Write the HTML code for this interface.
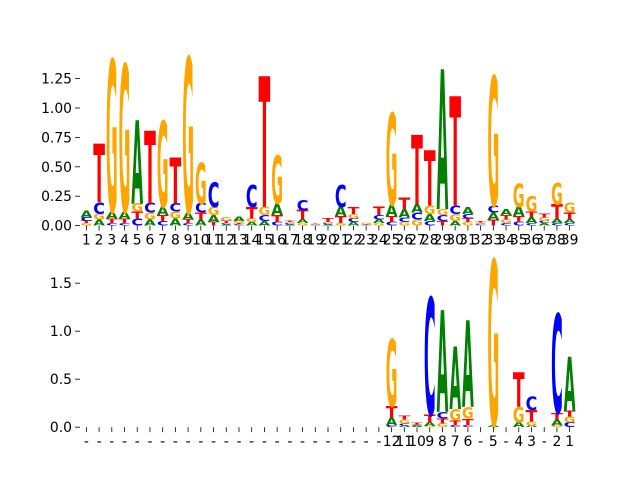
<!DOCTYPE html>
<html><head><meta charset="utf-8"><style>
html,body{margin:0;padding:0;background:#fff}
svg{display:block}
text{font-family:"DejaVu Sans","Liberation Sans",sans-serif}
</style></head><body>
<svg id="chart" width="640" height="480" viewBox="0 0 640 480"></svg>
<script>
const positions = Array.from({length:39},(_,i)=>i+1);
const topTickLabels = positions.map(String);
const bottomTickLabels = ["-","-","-","-","-","-","-","-","-","-","-","-","-","-","-","-","-","-","-","-","-","-","-","-","12","11","10","9","8","7","6","-","5","-","4","3","-","2","1"];
const topYTicks = [0,0.25,0.5,0.75,1.0,1.25];
const topYTickLabels = ["0.00","0.25","0.50","0.75","1.00","1.25"];
const bottomYTicks = [0,0.5,1.0,1.5];
const bottomYTickLabels = ["0.0","0.5","1.0","1.5"];
// top logo heights per letter per position
const topA = [0.06,0.05,0.06,0.06,0.71,0.05,0.07,0.06,0.06,0.05,0.06,0.01,0.04,0.03,0.04,0.10,0.01,0.03,0.005,0.01,0.08,0.03,0.005,0.03,0.10,0.07,0.07,0.06,1.19,0.04,0.06,0.005,0.06,0.05,0.08,0.05,0.02,0.04,0.03];
const topC = [0.03,0.10,0.02,0.02,0.06,0.08,0.04,0.07,0.02,0.08,0.21,0.01,0.01,0.19,0.05,0.03,0.01,0.09,0.005,0.01,0.19,0.03,0.005,0.04,0.03,0.04,0.06,0.04,0.05,0.07,0.04,0.01,0.06,0.02,0.03,0.02,0.02,0.02,0.02];
const topG = [0.02,0.05,1.29,1.25,0.07,0.06,0.73,0.06,1.32,0.35,0.07,0.03,0.02,0.03,0.07,0.41,0.01,0.02,0.005,0.01,0.02,0.04,0.01,0.02,0.78,0.03,0.05,0.07,0.05,0.06,0.03,0.01,1.10,0.03,0.20,0.13,0.03,0.18,0.08];
const topT = [0.02,0.50,0.04,0.04,0.06,0.62,0.05,0.39,0.03,0.06,0.03,0.02,0.01,0.10,1.11,0.06,0.01,0.08,0.005,0.03,0.06,0.06,0.005,0.07,0.05,0.10,0.59,0.47,0.04,0.93,0.03,0.01,0.05,0.04,0.05,0.05,0.03,0.12,0.06];
// bottom logo heights (positions 1-24 empty)
const botA = [0,0,0,0,0,0,0,0,0,0,0,0,0,0,0,0,0,0,0,0,0,0,0,0,0.08,0.02,0.01,0.04,1.06,0.65,0.90,0,0.02,0,0.05,0.02,0,0.06,0.56];
const botC = [0,0,0,0,0,0,0,0,0,0,0,0,0,0,0,0,0,0,0,0,0,0,0,0,0.02,0.02,0.01,1.22,0.07,0.02,0.02,0,0,0,0,0.14,0,1.03,0.05];
const botG = [0,0,0,0,0,0,0,0,0,0,0,0,0,0,0,0,0,0,0,0,0,0,0,0,0.70,0.04,0.01,0.01,0.04,0.12,0.12,0,1.72,0,0.16,0.04,0,0.02,0.06];
const botT = [0,0,0,0,0,0,0,0,0,0,0,0,0,0,0,0,0,0,0,0,0,0,0,0,0.12,0.04,0.02,0.08,0.05,0.05,0.07,0,0,0,0.36,0.12,0,0.07,0.06];

const NS="http://www.w3.org/2000/svg";
const svg=document.getElementById('chart');
const colors={A:"#008000",C:"#0000ff",G:"#ffa500",T:"#ff0000"};
const L=80,R=576,N=39;
const bw=(R-L)/N;
const xPos=i=>L+(i+0.5)*bw;
function mk(tag,attrs,parent){const e=document.createElementNS(NS,tag);for(const k in attrs)e.setAttribute(k,attrs[k]);parent.appendChild(e);return e;}

function panel(name,y0,pxPerUnit,A,C,G,T,yt,ytl,xtl){
  const g=mk('g',{},svg);
  
  
  const yS=v=>y0-v*pxPerUnit;
  for(let i=0;i<N;i++){
    const stack=[['A',A[i]],['C',C[i]],['G',G[i]],['T',T[i]]].filter(s=>s[1]>0).sort((a,b)=>a[1]-b[1]);
    let cum=0;
    const w=bw*0.92;
    stack.forEach(([ch,v])=>{
      const yb=yS(cum), h=v*pxPerUnit;
      cum+=v;
      if(h<0.3)return;
      const gg=mk('g',{transform:`translate(${xPos(i)-w/2},${yb}) scale(${w/100},${h/72.9})`},g);
      const t=mk('text',{x:0,y:0,'font-size':100,'font-weight':'bold',fill:colors[ch],textLength:100,lengthAdjust:'spacingAndGlyphs'},gg);
      
      
      t.textContent=ch;
    });
    mk('line',{x1:xPos(i),x2:xPos(i),y1:y0,y2:y0+4.9,stroke:'#000','stroke-width':0.8},g);
    const lb=mk('text',{x:xPos(i),y:y0+19,'font-size':13.9,'text-anchor':'middle',fill:'#000'},g);
    
    
    lb.textContent=xtl[i];
  }
  yt.forEach((v,k)=>{
    mk('line',{x1:L-4.9,x2:L,y1:yS(v),y2:yS(v),stroke:'#000','stroke-width':0.8},g);
    const t=mk('text',{x:L-8,y:yS(v)+5,'font-size':13.9,'text-anchor':'end',fill:'#000'},g);
    
    
    t.textContent=ytl[k];
  });
}
panel('top-logo',225.6,117.6,topA,topC,topG,topT,topYTicks,topYTickLabels,topTickLabels);
panel('bottom-logo',427.2,96,botA,botC,botG,botT,bottomYTicks,bottomYTickLabels,bottomTickLabels);
</script>
</body></html>
